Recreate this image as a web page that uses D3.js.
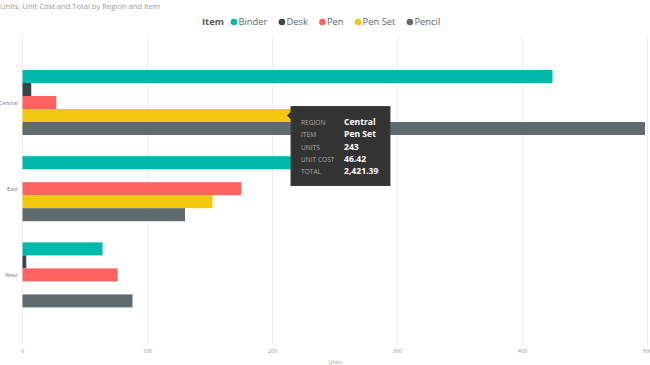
<!DOCTYPE html>
<html><head><meta charset="utf-8">
<script src="https://cdn.jsdelivr.net/npm/d3@7"></script>
<style>body{margin:0;background:#fff}svg{display:block;font-family:"Open Sans","Noto Sans",sans-serif}</style>
</head><body><svg id="c" width="650" height="365"></svg>
<script>
const regions = ["Central", "East", "West"];
const items = ["Binder", "Desk", "Pen", "Pen Set", "Pencil"];
const itemColors = ["#01B8AA", "#374649", "#FD625E", "#F2C80F", "#5F6B6D"];
const binderUnits = [424, 234, 64];
const deskUnits = [7, null, 3];
const penUnits = [27, 175, 76];
const penSetUnits = [243, 152, null];
const pencilUnits = [498, 130, 88];
const xTicks = [0, 100, 200, 300, 400, 500];
const tooltipLabels = ["REGION", "ITEM", "UNITS", "UNIT COST", "TOTAL"];
const tooltipValues = ["Central", "Pen Set", "243", "46.42", "2,421.39"];

const seriesUnits = [binderUnits, deskUnits, penUnits, penSetUnits, pencilUnits];
const data = [];
regions.forEach((r, ri) => items.forEach((it, ii) => {
  const v = seriesUnits[ii][ri];
  if (v != null) data.push({region: r, item: it, value: v});
}));

const svg = d3.select("#c");
const x = d3.scaleLinear().domain([0, 500]).range([22.5, 647.5]);
const y = d3.scaleBand().domain(regions).range([59.4, 318]);
const inner = d3.scaleBand().domain(items).range([-32.5, 32.5]);
const color = d3.scaleOrdinal().domain(items).range(itemColors);

// title
svg.append("text").attr("x", 0).attr("y", 8.5).attr("font-size", 7.6).attr("fill", "#999")
  .text("Units, Unit Cost and Total by Region and Item");

// gridlines
svg.append("g").selectAll("line").data(xTicks).join("line")
  .attr("x1", d => x(d)).attr("x2", d => x(d)).attr("y1", 35).attr("y2", 345)
  .attr("stroke", "#ececec").attr("stroke-width", 1);

// x axis labels
svg.append("g").selectAll("text").data(xTicks).join("text")
  .attr("x", d => x(d)).attr("y", 353).attr("text-anchor", "middle")
  .attr("font-size", 5.6).attr("fill", "#999").text(d => d);
svg.append("text").attr("x", (x(0) + x(500)) / 2).attr("y", 364).attr("text-anchor", "middle")
  .attr("font-size", 5.6).attr("fill", "#999").text("Units");

// y labels
svg.append("g").selectAll("text").data(regions).join("text")
  .attr("x", 18).attr("y", d => y(d) + y.bandwidth() / 2 + 2).attr("text-anchor", "end")
  .attr("font-size", 5.6).attr("fill", "#777").text(d => d);

// bars
svg.append("g").selectAll("rect").data(data).join("rect")
  .attr("x", x(0))
  .attr("y", d => y(d.region) + y.bandwidth() / 2 + inner(d.item))
  .attr("width", d => x(d.value) - x(0))
  .attr("height", inner.bandwidth())
  .attr("fill", d => color(d.item));

// legend
const lg = svg.append("g").attr("transform", "translate(202,22)");
const lt = lg.append("text").attr("x", 0).attr("y", 3.3).attr("font-size", 9.4).attr("font-weight", "bold")
  .attr("fill", "#555").text("Item");
let cx = lt.node().getComputedTextLength() + 10;
items.forEach((it, i) => {
  lg.append("circle").attr("cx", cx).attr("cy", 0).attr("r", 3.3).attr("fill", itemColors[i]);
  const t = lg.append("text").attr("x", cx + 4.5).attr("y", 3.3).attr("font-size", 9.4).attr("fill", "#666").text(it);
  cx += 4.5 + t.node().getComputedTextLength() + 14.5;
});

// tooltip
const ty = y("Central") + y.bandwidth() / 2 + inner("Pen Set") + inner.bandwidth() / 2;
const tx = 291;
const tt = svg.append("g");
tt.append("rect").attr("x", tx).attr("y", ty - 9).attr("width", 99).attr("height", 79)
  .attr("fill", "#333").attr("stroke", "#444").attr("stroke-width", 1);
tt.append("path").attr("d", `M${tx},${ty - 4}L${tx - 4},${ty}L${tx},${ty + 4}Z`).attr("fill", "#333");
tooltipLabels.forEach((l, i) => {
  const yy = ty + 9.5 + i * 12.3;
  tt.append("text").attr("x", tx + 10).attr("y", yy).attr("font-size", 6.6).attr("fill", "#aaa").text(l);
  tt.append("text").attr("x", tx + 53).attr("y", yy).attr("font-size", 8.6).attr("font-weight", "bold")
    .attr("fill", "#fff").text(tooltipValues[i]);
});
</script></body></html>
